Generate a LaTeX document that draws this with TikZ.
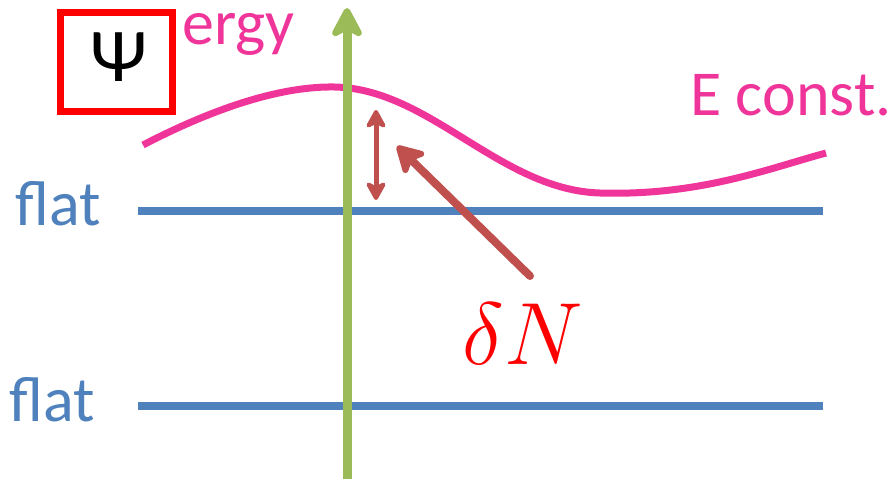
\documentclass[tikz,border=0pt]{standalone}
\usepackage{fontspec}
\setmainfont{Carlito}
\usetikzlibrary{arrows.meta}
\definecolor{pinkc}{HTML}{F0359A}
\definecolor{bluec}{HTML}{4F81BD}
\definecolor{greenc}{HTML}{9BBB59}
\definecolor{darkredc}{HTML}{C0504D}
\begin{document}
\begin{tikzpicture}[x=1pt,y=-1pt,
  flatline/.style={draw=bluec,line width=8pt},
  lbl/.style={inner sep=0pt,anchor=base west,font=\fontsize{64}{64}\selectfont},
  redarrow/.style={draw=darkredc,line cap=round}]
\useasboundingbox (0,0) rectangle (891,483);
% flat lines
\coordinate (f1a) at (138,211);
\coordinate (f1b) at (823,211);
\coordinate (f2a) at (138,406);
\coordinate (f2b) at (823,406);
\draw[flatline] (f1a) -- (f1b);
\draw[flatline] (f2a) -- (f2b);
\node[lbl,text=bluec] (flat1) at (15,225) {flat};
\node[lbl,text=bluec] (flat2) at (9,421) {flat};
% energy curve
\coordinate (c0) at (143,145);
\coordinate (c1) at (335,87);
\coordinate (c2) at (600,193);
\coordinate (c3) at (826,153);
\draw[pinkc,line width=7pt] (c0) .. controls (220,105) and (285,86) .. (c1)
  .. controls (430,89) and (500,190) .. (c2)
  .. controls (700,196) and (770,168) .. (c3);
\node[lbl,text=pinkc] (econst) at (690,115) {E const.};
\node[lbl,text=pinkc] (ergy) at (182,44) {ergy};
% green axis
\coordinate (g0) at (347,479);
\coordinate (g1) at (347,8);
\draw[greenc,line width=9pt,-{Stealth[length=36pt,width=38pt,inset=10pt,round]}] (g0) -- (g1);
% psi box
\node[draw=red,line width=7pt,fill=white,minimum width=112pt,minimum height=99pt,inner sep=0pt] (psibox) at (116,62) {};
\node[inner sep=0pt,font=\fontsize{76}{76}\selectfont] (psi) at (119,57) {Ψ};
% delta N double arrow
\coordinate (d0) at (376,110);
\coordinate (d1) at (376,200);
\draw[redarrow,line width=5pt,{Stealth[length=22pt,width=24pt,inset=6pt,round]}-{Stealth[length=22pt,width=24pt,inset=6pt,round]}] (d0) -- (d1);
% delta N label and pointer
\node[inner sep=0pt,text=red,font=\Huge,scale=3.55] (dn) at (523,334) {$\delta N$};
\coordinate (p0) at (530,276);
\coordinate (p1) at (397,146);
\draw[redarrow,line width=8pt,-{Stealth[length=32pt,width=36pt,inset=8pt,round]}] (p0) -- (p1);
\end{tikzpicture}
\end{document}
